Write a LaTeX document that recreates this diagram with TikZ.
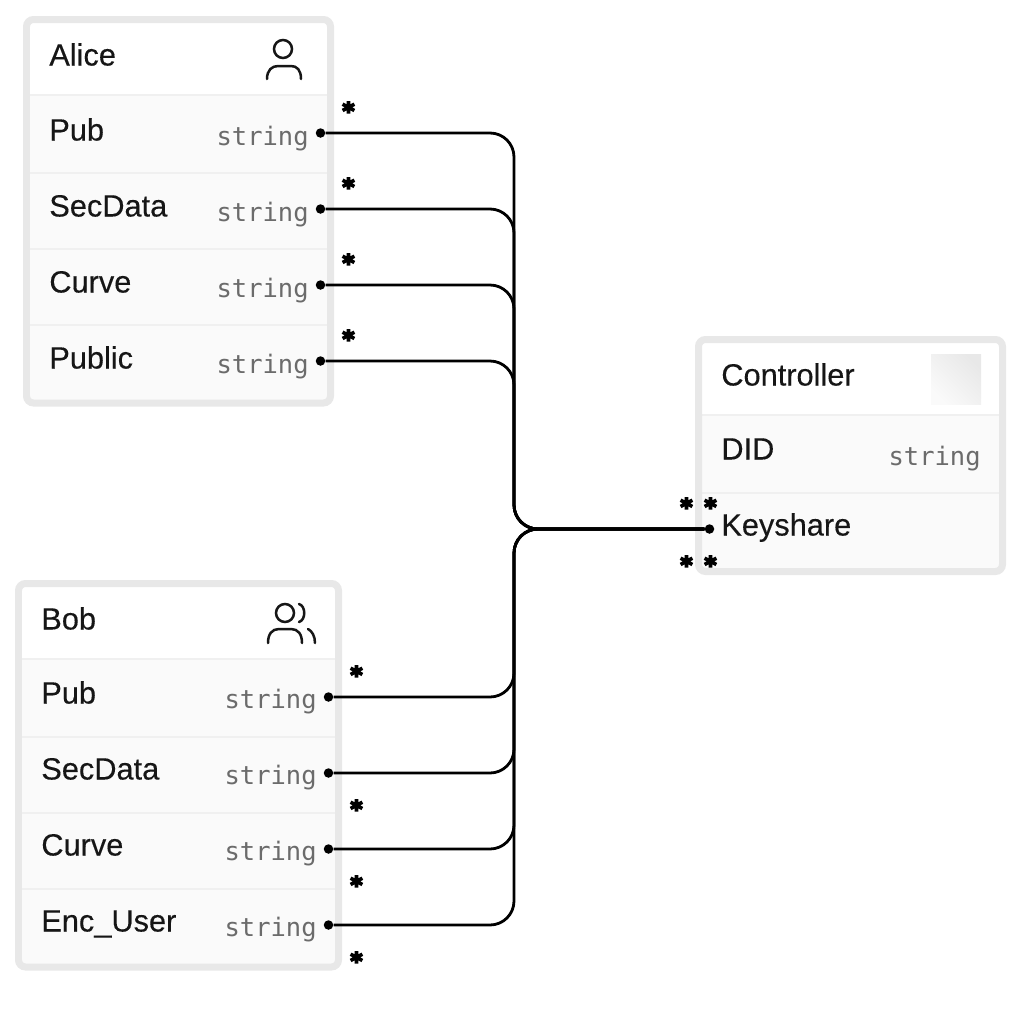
\documentclass[tikz,border=0pt]{standalone}
\usepackage{fontspec}
\setmainfont[FakeBold=0.25]{Liberation Sans}
\setmonofont{DejaVu Sans Mono}
\newfontfamily\starfont[FakeBold=8]{DejaVu Sans Mono}
\usepackage{xcolor}
\usepackage{tikz}
\definecolor{framegray}{HTML}{E8E8E8}
\definecolor{rowgray}{HTML}{FAFAFA}
\definecolor{sepgray}{HTML}{F0F0F0}
\definecolor{typegray}{HTML}{6B6B6B}
\definecolor{inkblack}{HTML}{161616}

\begin{document}
\begin{tikzpicture}[x=0.02cm,y=-0.02cm,
    frame/.style={draw=framegray,line width=0.14cm,rounded corners=0.14cm},
    rowsep/.style={draw=sepgray,line width=0.05cm},
    title/.style={anchor=base west,inner sep=0pt,text=inkblack,font=\fontsize{17.5}{20}\selectfont},
    type/.style={anchor=base east,inner sep=0pt,text=typegray,font=\ttfamily\fontsize{14.5}{17}\selectfont},
    pin/.style={circle,fill=black,inner sep=0pt,minimum size=0.19cm},
    many/.style={inner sep=0pt,font=\starfont\bfseries\fontsize{13}{13}\selectfont},
    link/.style={draw=black,line width=0.056cm,rounded corners=0.48cm},
    icon/.style={draw=inkblack,line width=0.05cm,line cap=round}]
  \useasboundingbox (0,0) rectangle (1024,1008);

  % Alice
  \fill[white] (30,23) rectangle (327,95);
  \fill[rowgray] (30,95) rectangle (327,400);
  \draw[rowsep] (30,95)--(327,95);
  \draw[rowsep] (30,173)--(327,173);
  \draw[rowsep] (30,249)--(327,249);
  \draw[rowsep] (30,325)--(327,325);
  \draw[frame] (26.5,19.5) rectangle (330.5,403);
  \node[title] (alice) at (49,65.5) {Alice};
  \node[title] (alicepubtxt) at (49,140.5) {Pub};
  \node[title] (alicesectxt) at (49,216.5) {SecData};
  \node[title] (alicecurtxt) at (49,292.5) {Curve};
  \node[title] (alicepubltxt) at (49,368.5) {Public};
  \node[type] (alicepubtype) at (309,145) {string};
  \node[type] (alicesectype) at (309,221) {string};
  \node[type] (alicecurtype) at (309,297) {string};
  \node[type] (alicepubltype) at (309,373) {string};
  \draw[icon] (283,49) circle (9);
  \draw[icon] (267,79) .. controls (267,70) and (272,66) .. (278,66) -- (291,66) .. controls (297,66) and (301,70) .. (301,79);

  % Bob
  \fill[white] (22,587) rectangle (335,659);
  \fill[rowgray] (22,659) rectangle (335,964);
  \draw[rowsep] (22,659)--(335,659);
  \draw[rowsep] (22,737)--(335,737);
  \draw[rowsep] (22,813)--(335,813);
  \draw[rowsep] (22,889)--(335,889);
  \draw[frame] (18.5,583.5) rectangle (338.5,967);
  \node[title] (bob) at (41,629.5) {Bob};
  \node[title] (bobpubtxt) at (41,703.5) {Pub};
  \node[title] (bobsectxt) at (41,779.5) {SecData};
  \node[title] (bobcurtxt) at (41,855.5) {Curve};
  \node[title] (bobenctxt) at (41,931.5) {Enc\_User};
  \node[type] (bobpubtype) at (317,708) {string};
  \node[type] (bobsectype) at (317,784) {string};
  \node[type] (bobcurtype) at (317,860) {string};
  \node[type] (bobenctype) at (317,936) {string};
  \draw[icon] (285,613) circle (9);
  \draw[icon] (299,604) .. controls (306,606) and (306,620) .. (299,622);
  \draw[icon] (268,643) .. controls (268,634) and (272,629) .. (279,629) -- (291,629) .. controls (298,629) and (302,634) .. (302,643);
  \draw[icon] (308,629) .. controls (312,631) and (315,636) .. (315,643);

  % Controller
  \fill[white] (702,343) rectangle (999,415);
  \fill[rowgray] (702,415) rectangle (999,568);
  \draw[rowsep] (702,415)--(999,415);
  \draw[rowsep] (702,493)--(999,493);
  \draw[frame] (698.5,339.5) rectangle (1002.5,571.5);
  \shade[left color=black!9,right color=black!2,shading angle=-45] (931,354) rectangle (981,404);
  \node[title] (controller) at (721,385.5) {Controller};
  \node[title] (didtxt) at (721,459.5) {DID};
  \node[title] (keysharetxt) at (721,535.5) {Keyshare};
  \node[type] (didtype) at (981,465) {string};

  % pins
  \node[pin] (alicepub) at (320.5,133) {};
  \node[pin] (alicesec) at (320.5,209) {};
  \node[pin] (alicecur) at (320.5,285) {};
  \node[pin] (alicepubl) at (320.5,361) {};
  \node[pin] (bobpub) at (328.5,697) {};
  \node[pin] (bobsec) at (328.5,773) {};
  \node[pin] (bobcur) at (328.5,849) {};
  \node[pin] (bobenc) at (328.5,925) {};
  \node[pin] (keyshare) at (709.5,529) {};
  \coordinate (junction) at (514,529);

  \draw[link] (alicepub) -| (junction) -- (keyshare);
  \draw[link] (alicesec) -| (junction) -- (keyshare);
  \draw[link] (alicecur) -| (junction) -- (keyshare);
  \draw[link] (alicepubl) -| (junction) -- (keyshare);
  \draw[link] (bobpub) -| (junction) -- (keyshare);
  \draw[link] (bobsec) -| (junction) -- (keyshare);
  \draw[link] (bobcur) -| (junction) -- (keyshare);
  \draw[link] (bobenc) -| (junction) -- (keyshare);

  % multiplicity marks
  \node[many] (m1) at (348.5,110.5) {*};
  \node[many] (m2) at (348.5,186.5) {*};
  \node[many] (m3) at (348.5,262.5) {*};
  \node[many] (m4) at (348.5,338.5) {*};
  \node[many] (m5) at (356.5,674.5) {*};
  \node[many] (m6) at (356.5,808.5) {*};
  \node[many] (m7) at (356.5,884.5) {*};
  \node[many] (m8) at (356.5,960.5) {*};
  \node[many] (m9) at (686.5,506.5) {*};
  \node[many] (m10) at (710.5,506.5) {*};
  \node[many] (m11) at (686.5,564.5) {*};
  \node[many] (m12) at (710.5,564.5) {*};
\end{tikzpicture}
\end{document}
